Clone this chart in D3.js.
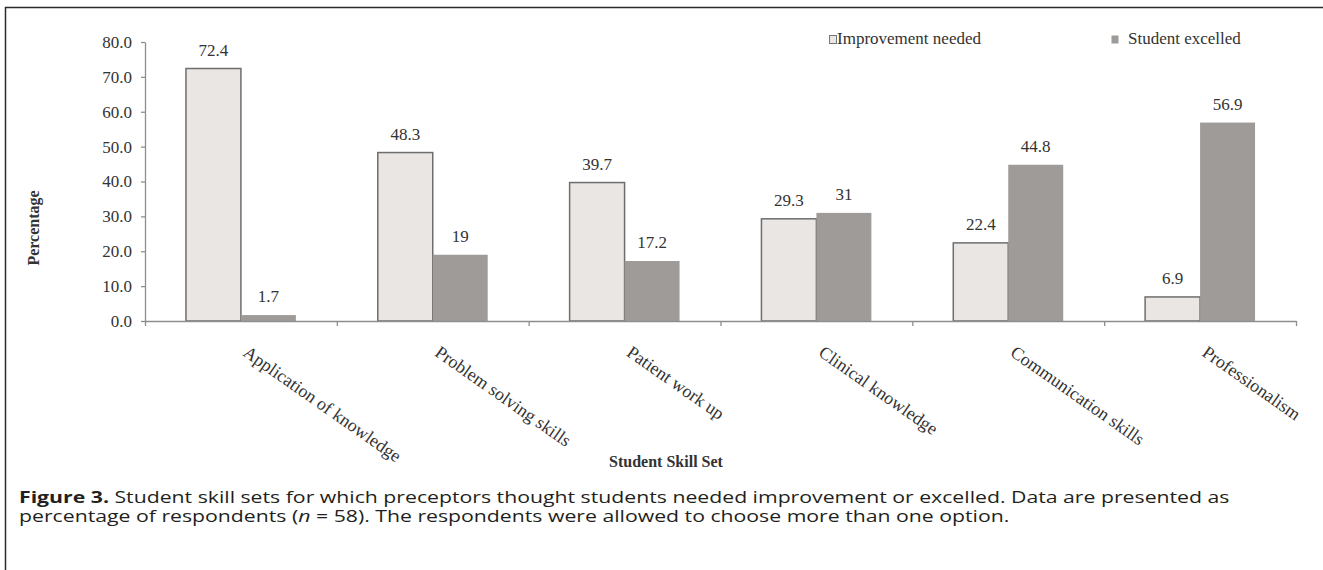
<!DOCTYPE html>
<html>
<head>
<meta charset="utf-8">
<script src="https://cdn.jsdelivr.net/npm/d3@7"></script>
<style>
  body { margin: 0; background: #fff; }
  svg { display: block; }
  .serif { font-family: "Liberation Serif", "Times New Roman", serif; fill: #333; }
  .caption { font-family: "Open Sans", "Noto Sans", sans-serif; fill: #231f20; font-size: 15.5px; }
</style>
</head>
<body>
<svg id="chart" width="1323" height="570"></svg>
<script>
const skills = [
  "Application of knowledge",
  "Problem solving skills",
  "Patient work up",
  "Clinical knowledge",
  "Communication skills",
  "Professionalism",
];
const seriesNames = ["Improvement needed", "Student excelled"];
const improvementNeeded = [72.4, 48.3, 39.7, 29.3, 22.4, 6.9];
const studentExcelled = [1.7, 19, 17.2, 31, 44.8, 56.9];
const yTicks = [0, 10, 20, 30, 40, 50, 60, 70, 80];

const captionBold = "Figure 3.";
const captionLine1 = " Student skill sets for which preceptors thought students needed improvement or excelled. Data are presented as";
const captionLine2 = ["percentage of respondents (", "n", " = 58). The respondents were allowed to choose more than one option."];

const fills = { "Improvement needed": "#e9e6e3", "Student excelled": "#9f9b98" };
const axisColor = "#8e8e8e";

const svg = d3.select("#chart");

// outer frame (runs off the right and bottom edges like the scan)
svg.append("rect")
  .attr("x", 5.5).attr("y", 7.5)
  .attr("width", 1340).attr("height", 600)
  .attr("fill", "none").attr("stroke", "#2a2a2a").attr("stroke-width", 1.5);

const plot = { left: 145, right: 1296, top: 42, bottom: 321 };

const x0 = d3.scaleBand().domain(skills).range([plot.left, plot.right]);
const x1 = d3.scaleBand().domain(seriesNames).range([0, x0.bandwidth()]).paddingOuter(0.745);
const y = d3.scaleLinear().domain([0, 80]).range([plot.bottom, plot.top]);

const rows = skills.map((s, i) => ({
  skill: s,
  values: [
    { key: seriesNames[0], value: improvementNeeded[i] },
    { key: seriesNames[1], value: studentExcelled[i] },
  ],
}));

// bars
const groups = svg.append("g").selectAll("g")
  .data(rows).join("g")
  .attr("transform", (d) => `translate(${x0(d.skill)},0)`);

groups.selectAll("rect")
  .data((d) => d.values).join("rect")
  .attr("x", (d) => x1(d.key))
  .attr("y", (d) => y(d.value))
  .attr("width", x1.bandwidth())
  .attr("height", (d) => y(0) - y(d.value))
  .attr("fill", (d) => fills[d.key])
  .attr("stroke", (d) => (d.key === seriesNames[0] ? "#6e6e6e" : "none"))
  .attr("stroke-width", 1.5);

groups.selectAll("text")
  .data((d) => d.values).join("text")
  .attr("class", "serif")
  .attr("x", (d) => x1(d.key) + x1.bandwidth() / 2)
  .attr("y", (d) => y(d.value) - 13)
  .attr("text-anchor", "middle")
  .style("font-size", "17px")
  .text((d) => d.value);

// y axis
const yAxis = svg.append("g")
  .attr("transform", `translate(${plot.left},0)`)
  .call(d3.axisLeft(y).tickValues(yTicks).tickFormat(d3.format(".1f")).tickSize(4).tickSizeOuter(0).tickPadding(9));
yAxis.selectAll("path, line").attr("stroke", axisColor).attr("stroke-width", 1.3);
yAxis.selectAll("text").attr("class", "serif").style("font-size", "17px").attr("fill", "#333");

// x axis with ticks at the category boundaries
const xEdges = d3.scaleLinear().domain([0, skills.length]).range([plot.left, plot.right]);
const xAxis = svg.append("g")
  .attr("transform", `translate(0,${plot.bottom})`)
  .call(d3.axisBottom(xEdges).tickValues(d3.range(skills.length + 1)).tickFormat("").tickSize(5).tickSizeOuter(0));
xAxis.selectAll("path, line").attr("stroke", axisColor).attr("stroke-width", 1.3);

// rotated category labels
svg.append("g").selectAll("text")
  .data(skills).join("text")
  .attr("class", "serif")
  .attr("transform", (d) => `translate(${x0(d) + x0.bandwidth() / 2 + 1},355) rotate(35)`)
  .style("font-size", "18px")
  .text((d) => d);

// axis titles
svg.append("text")
  .attr("class", "serif")
  .attr("transform", "translate(39,228) rotate(-90)")
  .attr("text-anchor", "middle")
  .style("font-size", "16px").style("font-weight", "bold").attr("fill", "#444")
  .text("Percentage");

svg.append("text")
  .attr("class", "serif")
  .attr("x", 666).attr("y", 467)
  .attr("text-anchor", "middle")
  .style("font-size", "16px").style("font-weight", "bold").attr("fill", "#444")
  .text("Student Skill Set");

// legend
const legendPos = [{ box: 829, text: 837 }, { box: 1111, text: 1128 }];
const legend = svg.append("g").selectAll("g")
  .data(seriesNames).join("g");
legend.append("rect")
  .attr("x", (d, i) => legendPos[i].box + 0.5)
  .attr("y", 35.5)
  .attr("width", 7).attr("height", 8)
  .attr("fill", (d) => fills[d])
  .attr("stroke", (d, i) => (i === 0 ? "#777" : "none"));
legend.append("text")
  .attr("class", "serif")
  .attr("x", (d, i) => legendPos[i].text)
  .attr("y", 44)
  .style("font-size", "17px")
  .text((d) => d);

// caption: the journal font is wider than Open Sans, so stretch it horizontally
const cap1 = svg.append("text").attr("class", "caption");
cap1.append("tspan").style("font-weight", "bold").text(captionBold);
cap1.append("tspan").text(captionLine1);
const cap2 = svg.append("text").attr("class", "caption");
cap2.selectAll("tspan").data(captionLine2).join("tspan")
  .style("font-style", (d, i) => (i === 1 ? "italic" : "normal"))
  .text((d) => d);

const stretch = 991 / cap2.node().getComputedTextLength();
cap1.attr("transform", `translate(19,503) scale(${stretch},1)`);
cap2.attr("transform", `translate(19,522) scale(${stretch},1)`);
</script>
</body>
</html>
